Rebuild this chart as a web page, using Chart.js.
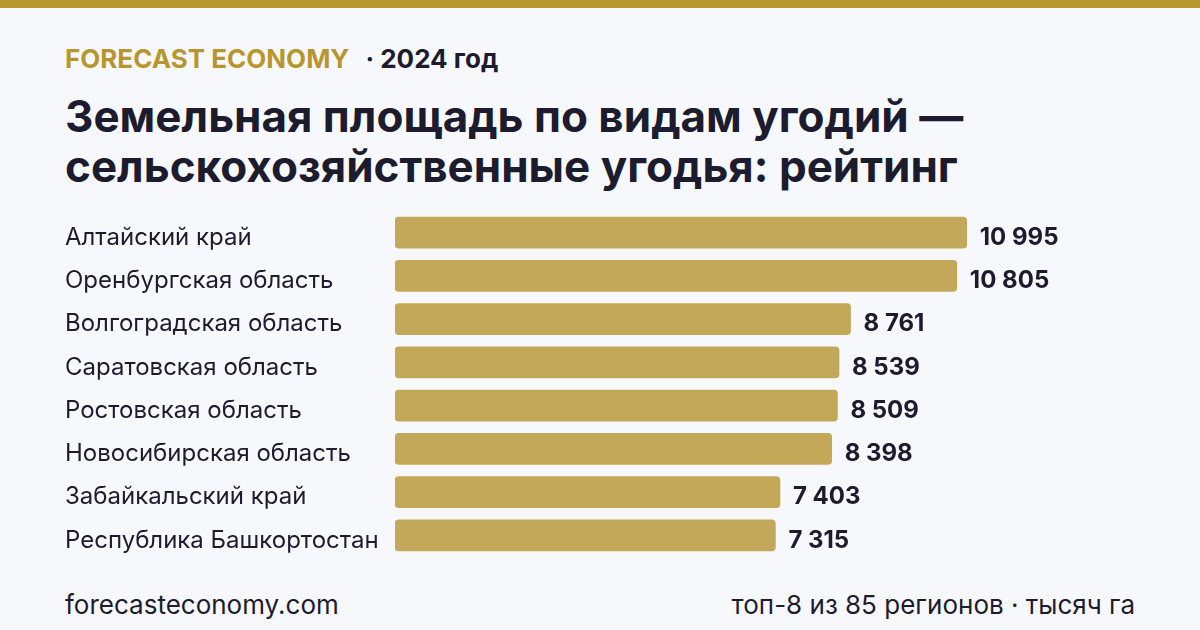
<!DOCTYPE html>
<html>
<head>
<meta charset="utf-8">
<script src="https://cdn.jsdelivr.net/npm/chart.js@4"></script>
<style>
  html, body { margin: 0; padding: 0; }
  body {
    width: 1200px; height: 630px; overflow: hidden; position: relative;
    background: #f7f8fc; font-family: Inter, "Noto Sans", sans-serif; color: #1c1c2e;
  }
  .topbar { position: absolute; left: 0; top: 0; width: 1200px; height: 8px; background: #b8962e; }
  .brand { position: absolute; left: 65px; top: 43px; font-size: 26px; font-weight: 700; white-space: nowrap; }
  .brand .gold { color: #b8962e; }
  .brand .year { color: #1c1c2e; margin-left: 16px; }
  h1 { position: absolute; left: 65px; top: 91px; margin: 0; font-size: 44px; line-height: 50px; font-weight: 700; color: #1c1c2e; white-space: nowrap; }
  .foot { position: absolute; top: 589px; font-size: 26px; color: #1c1c2e; }
  .foot.left { left: 65px; }
  .foot.right { right: 65px; }
  #wrap { position: absolute; left: 0; top: 196px; width: 1200px; height: 376px; }
</style>
</head>
<body>
<div class="topbar"></div>
<div class="brand"><span class="gold">FORECAST ECONOMY</span><span class="year">· 2024 год</span></div>
<h1>Земельная площадь по видам угодий —<br>сельскохозяйственные угодья: рейтинг</h1>
<div id="wrap"><canvas id="chart"></canvas></div>
<div class="foot left">forecasteconomy.com</div>
<div class="foot right">топ-8 из 85 регионов · тысяч га</div>
<script>
var regions = ["Алтайский край", "Оренбургская область", "Волгоградская область", "Саратовская область",
  "Ростовская область", "Новосибирская область", "Забайкальский край", "Республика Башкортостан"];
var areaValues = [10995, 10805, 8761, 8539, 8509, 8398, 7403, 7315];

function fmt(v) {
  return String(v).replace(/\B(?=(\d{3})+(?!\d))/g, " ");
}

// подписи значений справа от столбцов
var valueLabels = {
  id: 'valueLabels',
  afterDatasetsDraw: function(chart) {
    var ctx = chart.ctx;
    var meta = chart.getDatasetMeta(0);
    ctx.save();
    ctx.font = "700 24px Inter";
    ctx.fillStyle = "#1c1c2e";
    ctx.textBaseline = "middle";
    ctx.textAlign = "left";
    meta.data.forEach(function(bar, i) {
      ctx.fillText(fmt(areaValues[i]), bar.x + 13, bar.y + 5);
    });
    ctx.restore();
  }
};

var ctx = document.getElementById("chart").getContext('2d');
var myChart = new Chart(ctx, {
  type: 'bar',
  data: {
    labels: regions,
    datasets: [{
      data: areaValues,
      backgroundColor: "#c4a85a",
      borderRadius: 4,
      borderSkipped: false,
      barThickness: 31
    }]
  },
  options: {
    indexAxis: 'y',
    responsive: true,
    maintainAspectRatio: false,
    animation: false,
    layout: { padding: { left: 65, right: 181, top: 15, bottom: 15 } },
    plugins: { legend: { display: false }, tooltip: { enabled: false } },
    scales: {
      x: { display: false, min: 0, max: 12000 },
      y: {
        grid: { display: false },
        border: { display: false },
        afterFit: function(scale) { scale.width = 330; },
        ticks: {
          crossAlign: 'far',
          padding: 0,
          labelOffset: 5,
          color: "#1c1c2e",
          font: { family: "Inter", size: 24 }
        }
      }
    }
  },
  plugins: [valueLabels]
});
</script>
</body>
</html>
